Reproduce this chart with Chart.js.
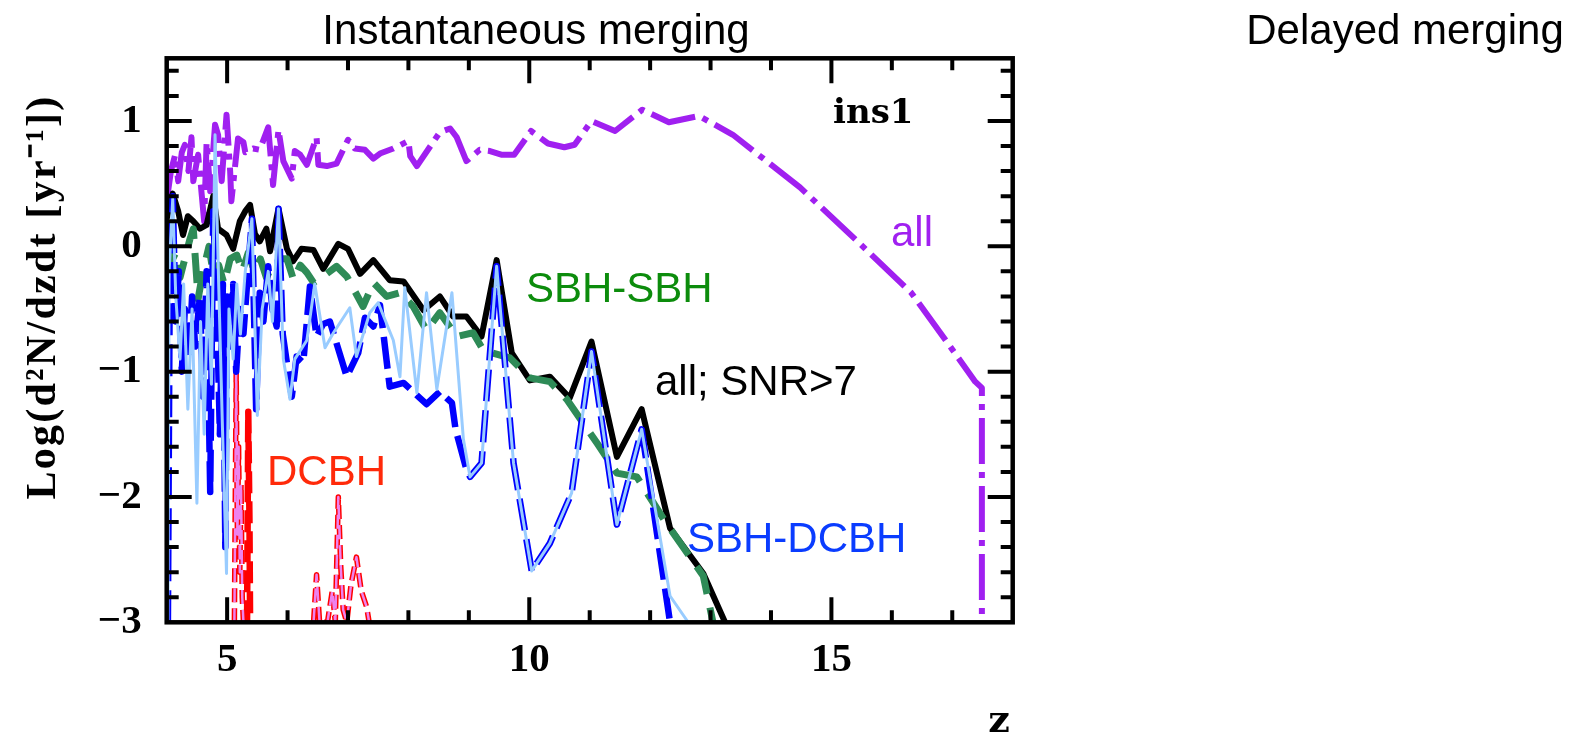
<!DOCTYPE html>
<html lang="en">
<head>
<meta charset="UTF-8">
<title>Instantaneous merging</title>
<script src="https://cdn.jsdelivr.net/npm/chart.js"></script>
<style>
  html, body { margin: 0; padding: 0; background: #fff; }
  canvas { display: block; }
</style>
</head>
<body>
<canvas id="chart" width="1582" height="740"></canvas>
<script>
// redshift z and Log(d2N/dzdt), one pair of arrays per curve
const allZ = [4.0,4.07,4.14,4.19,4.25,4.30,4.36,4.41,4.44,4.52,4.58,4.62,4.66,4.72,4.80,4.85,4.91,4.99,5.05,5.07,5.18,5.27,5.30,5.43,5.54,5.68,5.76,5.85,5.93,6.07,6.12,6.21,6.32,6.48,6.51,6.65,6.81,7.0,7.11,7.28,7.42,7.53,7.75,8.0,8.03,8.14,8.52,8.69,8.8,8.96,9.18,9.35,9.55,9.75,10.03,10.31,10.58,10.75,11.03,11.42,11.87,12.31,12.81,13.37,14.48,15.43,16.32,17.04,17.38,17.49,17.49];
const allY = [0.36,0.6,0.73,0.52,0.75,0.81,0.6,0.87,0.52,0.73,0.41,0.2,0.83,0.44,0.97,0.89,0.52,1.05,0.60,0.36,0.86,0.83,0.75,0.78,0.77,0.95,0.49,0.93,0.68,0.54,0.76,0.73,0.65,0.87,0.65,0.64,0.66,0.85,0.78,0.77,0.70,0.74,0.78,0.84,0.72,0.64,0.91,0.94,0.87,0.68,0.77,0.76,0.73,0.73,0.92,0.82,0.79,0.81,1.0,0.92,1.09,0.99,1.04,0.89,0.47,0.04,-0.37,-0.85,-1.08,-1.13,-3.0];

const snrZ = [4.0,4.1,4.19,4.27,4.35,4.44,4.55,4.66,4.77,4.85,4.99,5.1,5.21,5.30,5.38,5.46,5.54,5.65,5.71,5.85,5.99,6.09,6.23,6.43,6.59,6.84,7.0,7.2,7.42,7.69,7.92,8.25,8.52,8.74,8.96,9.21,9.46,9.71,10.01,10.34,10.67,11.03,11.45,11.86,12.33,12.88,13.24];
const snrY = [0.22,0.42,0.28,0.09,0.24,0.20,0.14,0.17,0.40,0.14,0.09,-0.02,0.20,0.28,0.33,0.10,0.04,0.14,-0.04,0.30,-0.02,-0.12,-0.02,-0.03,-0.18,0.02,-0.02,-0.22,-0.11,-0.27,-0.28,-0.51,-0.40,-0.56,-0.56,-0.72,-0.11,-0.85,-1.07,-1.04,-1.21,-0.76,-1.68,-1.30,-2.25,-2.61,-3.0];

const sbhZ = [4.0,4.08,4.15,4.22,4.3,4.38,4.44,4.52,4.6,4.7,4.78,4.86,4.95,5.05,5.16,5.25,5.35,5.45,5.55,5.65,5.75,5.88,5.99,6.1,6.21,6.32,6.43,6.59,6.81,6.98,7.25,7.42,7.64,7.86,8.08,8.3,8.52,8.8,9.07,9.24,9.68,10.01,10.34,10.62,11.12,11.45,11.78,12.27,12.88,13.04];
const sbhY = [0.05,-0.12,-0.05,-0.25,-0.1,0.05,0.14,-0.42,-0.2,0.0,-0.25,-0.15,-0.3,-0.1,-0.07,-0.2,-0.05,-0.2,-0.1,-0.25,-0.15,-0.1,-0.1,-0.27,-0.15,-0.21,-0.29,-0.24,-0.16,-0.24,-0.48,-0.29,-0.40,-0.37,-0.48,-0.67,-0.53,-0.72,-0.69,-0.83,-0.89,-1.05,-1.08,-1.22,-1.57,-1.81,-1.84,-2.21,-2.63,-3.0];

const mixZ = [4.02,4.05,4.1,4.15,4.2,4.25,4.3,4.37,4.42,4.47,4.55,4.6,4.66,4.72,4.77,4.83,4.88,4.93,4.97,5.0,5.05,5.1,5.15,5.21,5.27,5.33,5.41,5.48,5.54,5.60,5.68,5.75,5.82,5.85,5.92,6.07,6.15,6.26,6.37,6.48,6.59,6.70,6.98,7.17,7.28,7.42,7.53,7.69,7.92,8.3,8.52,8.72,8.78,8.96,9.02,9.21,9.46,9.74,10.04,10.34,10.70,11.03,11.45,11.86,12.32];
const mixY = [-3,-0.3,0.40,-0.6,-0.2,-1.0,-0.5,-0.9,-0.4,-0.8,-0.4,-1.2,-0.2,-1.96,0.28,-0.5,-1.5,-0.3,-2.4,-0.4,-0.8,-0.3,-1.0,-0.5,-0.7,-0.3,0.22,-1.3,-0.37,-0.6,-0.16,-0.5,-0.64,0.30,-0.7,-1.2,-0.88,-0.93,-0.32,-0.72,-0.62,-0.60,-1.04,-0.85,-0.57,-0.64,-0.47,-1.12,-1.09,-1.26,-1.16,-1.25,-1.46,-1.78,-1.84,-1.73,-0.16,-1.73,-2.59,-2.37,-1.97,-0.84,-2.22,-1.46,-2.97];

const mixAllZ = [4.02,4.04,4.1,4.15,4.22,4.28,4.35,4.42,4.5,4.56,4.62,4.68,4.74,4.80,4.86,4.92,4.99,5.03,5.1,5.16,5.22,5.3,5.41,5.5,5.58,5.68,5.75,5.85,5.93,6.04,6.12,6.32,6.45,6.62,6.76,7.03,7.14,7.36,7.5,7.75,7.86,7.94,8.14,8.3,8.47,8.72,8.91,9.02,9.21,9.46,9.74,10.04,10.34,10.70,11.03,11.45,11.86,12.33,12.63];
const mixAllY = [-3,-0.2,0.38,-0.4,-0.9,-0.3,-1.3,-0.5,-2.05,-0.6,-1.5,-0.3,-1.1,0.89,-0.3,-1.4,-2.61,-0.5,-0.9,-0.3,-0.7,-0.2,0.22,-1.35,-0.5,-0.2,-0.6,0.30,-0.9,-1.22,-0.9,-0.75,-0.3,-0.81,-0.69,-0.49,-0.88,-0.53,-0.45,-0.75,-1.04,-0.33,-1.17,-0.37,-1.14,-0.37,-1.54,-1.84,-1.73,-0.16,-1.73,-2.59,-2.37,-1.97,-0.84,-2.22,-1.46,-2.79,-3.0];

// DCBH curves (null = break between the two bunches)
const dcbhZ = [5.12,5.15,5.17,5.19,5.21,5.23,5.25,5.27,5.8,6.43,6.48,6.53,6.66,6.74,6.79,6.84,6.88,6.92,6.98,7.05,7.14,7.22,7.31,7.35];
const dcbhY = [-3,-1.0,-2.3,-1.6,-2.6,-1.9,-2.8,-3,null,-3,-2.62,-3,-3,-2.75,-3,-2.0,-2.55,-2.9,-3,-2.7,-2.48,-2.75,-2.88,-3];
const dcbhSnrZ = [5.33,5.35,5.37,5.38];
const dcbhSnrY = [-3,-1.32,-2.2,-3];

const xTicks = [5, 10, 15];
const yTicks = [-3, -2, -1, 0, 1];

function pts(zs, ys) {
    return zs.map((z, i) => ({ x: z, y: ys[i] }));
}

function line(data, color, width, dash) {
    return {
        data: data,
        showLine: true,
        borderColor: color,
        borderWidth: width,
        borderDash: dash || [],
        pointRadius: 0,
        tension: 0,
        spanGaps: false,
        borderJoinStyle: 'round',
        borderCapStyle: 'butt'
    };
}

const serif = '"DejaVu Serif", serif';
const tserif = '"Liberation Serif", "Times New Roman", serif';
const sans = '"Liberation Sans", Arial, sans-serif';

const decor = {
    id: 'decor',
    afterDatasetsDraw(chart) {
        const ctx = chart.ctx;
        const a = chart.chartArea;
        const xs = chart.scales.x, ys = chart.scales.y;
        ctx.save();
        ctx.strokeStyle = '#000';
        ctx.lineWidth = 4;
        ctx.lineCap = 'butt';
        // minor and major ticks on all four sides, pointing inwards
        for (let z = 5; z < 18; z++) {
            const px = xs.getPixelForValue(z);
            const len = z % 5 === 0 ? 25 : 12;
            ctx.beginPath();
            ctx.moveTo(px, a.bottom); ctx.lineTo(px, a.bottom - len);
            ctx.moveTo(px, a.top); ctx.lineTo(px, a.top + len);
            ctx.stroke();
        }
        for (let k = 1; k < 23; k++) {
            const v = -3 + k * 0.2;
            const py = ys.getPixelForValue(v);
            const len = k % 5 === 0 ? 25 : 12;
            ctx.beginPath();
            ctx.moveTo(a.left, py); ctx.lineTo(a.left + len, py);
            ctx.moveTo(a.right, py); ctx.lineTo(a.right - len, py);
            ctx.stroke();
        }
        ctx.lineWidth = 4.5;
        ctx.lineJoin = 'miter';
        ctx.strokeRect(a.left, a.top, a.right - a.left, a.bottom - a.top);
        ctx.restore();
    },
    afterDraw(chart) {
        const ctx = chart.ctx;
        ctx.save();
        ctx.textBaseline = 'alphabetic';

        ctx.font = '42px ' + sans;
        ctx.fillStyle = '#000';
        ctx.textAlign = 'center';
        ctx.fillText('Instantaneous merging', 536, 44);
        ctx.fillText('Delayed merging', 1405, 44);

        ctx.textAlign = 'left';
        ctx.font = 'bold 34px ' + serif;
        ctx.fillText('ins1', 833, 123);

        ctx.font = '42px ' + sans;
        ctx.fillStyle = '#a020f0';
        ctx.fillText('all', 891, 246);
        ctx.fillStyle = '#0c8c0c';
        ctx.fillText('SBH-SBH', 526, 302);
        ctx.fillStyle = '#000';
        ctx.fillText('all; SNR>7', 655, 395);
        ctx.fillStyle = '#ff2a0a';
        ctx.fillText('DCBH', 267, 485);
        ctx.fillStyle = '#0a3cff';
        ctx.fillText('SBH-DCBH', 687, 552);

        // axis titles
        ctx.fillStyle = '#000';
        ctx.font = 'bold 38px ' + serif;
        ctx.textAlign = 'center';
        ctx.fillText('z', 999, 732);

        const ttl = 'Log(d\u00b2N/dzdt [yr\u207b\u00b9])';
        ctx.font = 'bold 42px ' + tserif;
        const w = ctx.measureText(ttl).width;
        ctx.translate(55, 297);
        ctx.rotate(-Math.PI / 2);
        ctx.letterSpacing = Math.max(0, (405 - w) / ttl.length) + 'px';
        ctx.fillText(ttl, 0, 0);
        ctx.restore();
    }
};

const ctx = document.getElementById('chart').getContext('2d');
const chart = new Chart(ctx, {
    type: 'scatter',
    data: {
        datasets: [
            line(pts(mixAllZ, mixAllY), '#99ccff', 3),
            line(pts(mixZ, mixY), '#0000ff', 6.5, [32, 9]),
            line(pts(dcbhZ, dcbhY), '#ee82ee', 2.5, [14, 6]),
            line(pts(dcbhZ, dcbhY), '#ff0000', 5.5, [14, 6]),
            line(pts(dcbhSnrZ, dcbhSnrY), '#ff0000', 6.5, [22, 8]),
            line(pts(sbhZ, sbhY), '#2e8b57', 7, [30, 14]),
            line(pts(snrZ, snrY), '#000000', 6),
            line(pts(allZ, allY), '#a020f0', 6, [46, 8, 6, 8])
        ]
    },
    options: {
        responsive: false,
        animation: false,
        devicePixelRatio: 1,
        layout: { padding: { left: 0, top: 58.3, right: 569.3, bottom: 0 } },
        plugins: { legend: { display: false }, tooltip: { enabled: false } },
        scales: {
            x: {
                type: 'linear', min: 4, max: 18,
                grid: { display: false, drawTicks: false },
                border: { display: false },
                ticks: {
                    stepSize: 5, includeBounds: false, padding: 14,
                    maxRotation: 0, color: '#000',
                    font: { family: tserif, size: 41, weight: 'bold' },
                    callback: v => xTicks.includes(v) ? String(v) : ''
                },
                afterFit(s) { s.height = 740 - 622.3; }
            },
            y: {
                type: 'linear', min: -3, max: 1.5,
                grid: { display: false, drawTicks: false },
                border: { display: false },
                ticks: {
                    stepSize: 1, includeBounds: false, padding: 25, color: '#000',
                    font: { family: tserif, size: 41, weight: 'bold' },
                    callback: v => yTicks.includes(v) ? (v < 0 ? '\u2212' + Math.abs(v) : String(v)) : ''
                },
                afterFit(s) { s.width = 166.7; }
            }
        }
    },
    plugins: [decor]
});
</script>
</body>
</html>
